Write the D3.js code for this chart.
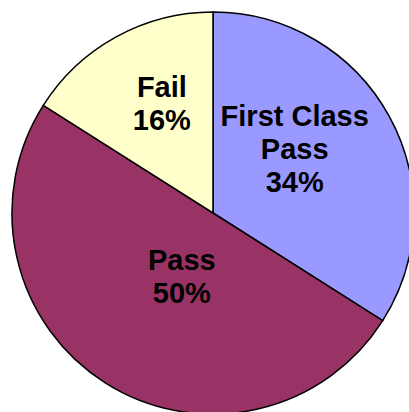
<!DOCTYPE html>
<html>
<head>
<meta charset="utf-8">
<script src="https://cdn.jsdelivr.net/npm/d3@7"></script>
<style>
  body { margin: 0; background: #fff; }
</style>
</head>
<body>
<div id="chart"></div>
<script>
// chart data
var categories = ["First Class Pass", "Pass", "Fail"];
var values = [34, 50, 16];
var colors = ["#9999FF", "#993366", "#FFFFCC"];

var width = 409, height = 412;
var cx = 213, cy = 213, radius = 201;

var svg = d3.select("#chart")
  .append("svg")
    .attr("width", width)
    .attr("height", height)
  .append("g")
    .attr("transform", "translate(" + cx + "," + cy + ")");

var pie = d3.pie()
    .sort(null)
    .value(function(d) { return d.value; });

var data = categories.map(function(c, i) {
  return {name: c, value: values[i], color: colors[i]};
});

var arcs = pie(data);

var arc = d3.arc()
    .innerRadius(0)
    .outerRadius(radius);

svg.selectAll("path")
  .data(arcs)
  .enter()
  .append("path")
    .attr("d", arc)
    .style("fill", function(d) { return d.data.color; })
    .style("stroke", "#000")
    .style("stroke-width", 1.5);

// label placement (polar, relative to centre) - roughly where excel put them
var labelPlace = {
  "First Class Pass": {r: 104, a: 51.8, lines: ["First Class", "Pass"]},
  "Pass": {r: 71, a: 206, lines: ["Pass"]},
  "Fail": {r: 121, a: 335, lines: ["Fail"]}
};

var lineH = 33;
var fmt = function(d) { return d3.format(".0%")(d.value / d3.sum(values)); };

arcs.forEach(function(d) {
  var p = labelPlace[d.data.name];
  var rad = p.a * Math.PI / 180;
  var x = p.r * Math.sin(rad);
  var y = -p.r * Math.cos(rad);
  var lines = p.lines.concat([fmt(d.data)]);
  var y0 = y - (lines.length - 1) * lineH / 2 + 10;

  var t = svg.append("text")
    .attr("text-anchor", "middle")
    .style("font-family", "Liberation Sans, Arial, sans-serif")
    .style("font-weight", "bold")
    .style("font-size", "29px")
    .style("fill", "#000");

  lines.forEach(function(l, i) {
    t.append("tspan")
      .attr("x", x)
      .attr("y", y0 + i * lineH)
      .text(l);
  });
});
</script>
</body>
</html>
